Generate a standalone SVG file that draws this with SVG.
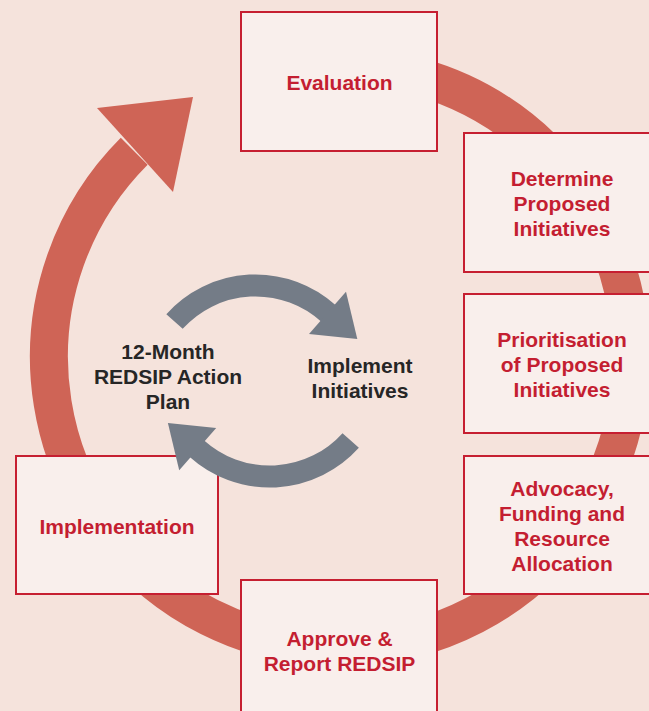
<svg xmlns="http://www.w3.org/2000/svg" width="649" height="711" viewBox="0 0 649 711">
  <style>
    .box rect { fill: #f9efec; stroke: #c61f31; stroke-width: 2; }
    .box text, .lbl text { font-family: "Liberation Sans", Arial, sans-serif; font-weight: bold; font-size: 21px; text-anchor: middle; }
    .box text { fill: #c41e31; }
    .lbl text { fill: #262626; }
    .ring { fill: none; stroke: #cf6456; stroke-width: 38; }
    .ringhead { fill: #cf6456; }
    .cycle { fill: none; stroke: #747c87; stroke-width: 22; }
    .cyclehead { fill: #747c87; }
  </style>

  <!-- background -->
  <rect x="0" y="0" width="649" height="711" fill="#f5e3dc"/>

  <!-- outer cycle arrow -->
  <g id="connectors-outer">
    <path class="ring" d="M 289.5 70.4 A 291 291 0 1 1 134.2 151.2"/>
    <polygon class="ringhead" points="97,108 193,97 173,192"/>
  </g>

  <!-- process steps -->
  <g id="node-evaluation" class="box">
    <rect x="241" y="12" width="196" height="139"/>
    <text x="339.5" y="90">Evaluation</text>
  </g>
  <g id="node-determine" class="box">
    <rect x="464" y="133" width="196" height="139"/>
    <text x="562" y="186">Determine</text>
    <text x="562" y="211">Proposed</text>
    <text x="562" y="236">Initiatives</text>
  </g>
  <g id="node-prioritisation" class="box">
    <rect x="464" y="294" width="196" height="139"/>
    <text x="562" y="347">Prioritisation</text>
    <text x="562" y="372">of Proposed</text>
    <text x="562" y="397">Initiatives</text>
  </g>
  <g id="node-advocacy" class="box">
    <rect x="464" y="456" width="196" height="138"/>
    <text x="562" y="496">Advocacy,</text>
    <text x="562" y="521">Funding and</text>
    <text x="562" y="546">Resource</text>
    <text x="562" y="571">Allocation</text>
  </g>
  <g id="node-approve" class="box">
    <rect x="241" y="580" width="196" height="139"/>
    <text x="339.5" y="646">Approve &amp;</text>
    <text x="339.5" y="671">Report REDSIP</text>
  </g>
  <g id="node-implementation" class="box">
    <rect x="16" y="456" width="202" height="138"/>
    <text x="117" y="534">Implementation</text>
  </g>

  <!-- inner action-plan loop -->
  <g id="connectors-inner">
    <g id="inner-upper">
      <path class="cycle" d="M 174.5 321.5 A 109 109 0 0 1 328.4 313.4"/>
      <polygon class="cyclehead" points="346,291.7 357.3,339 309,334"/>
    </g>
    <g id="inner-lower" transform="rotate(180 262.6 381)">
      <path class="cycle" d="M 174.5 321.5 A 109 109 0 0 1 328.4 313.4"/>
      <polygon class="cyclehead" points="346,291.7 357.3,339 309,334"/>
    </g>
  </g>

  <g id="node-action-plan" class="lbl">
    <text x="168" y="359">12-Month</text>
    <text x="168" y="384">REDSIP Action</text>
    <text x="168" y="409">Plan</text>
  </g>
  <g id="node-implement" class="lbl">
    <text x="360" y="373">Implement</text>
    <text x="360" y="398">Initiatives</text>
  </g>
</svg>
